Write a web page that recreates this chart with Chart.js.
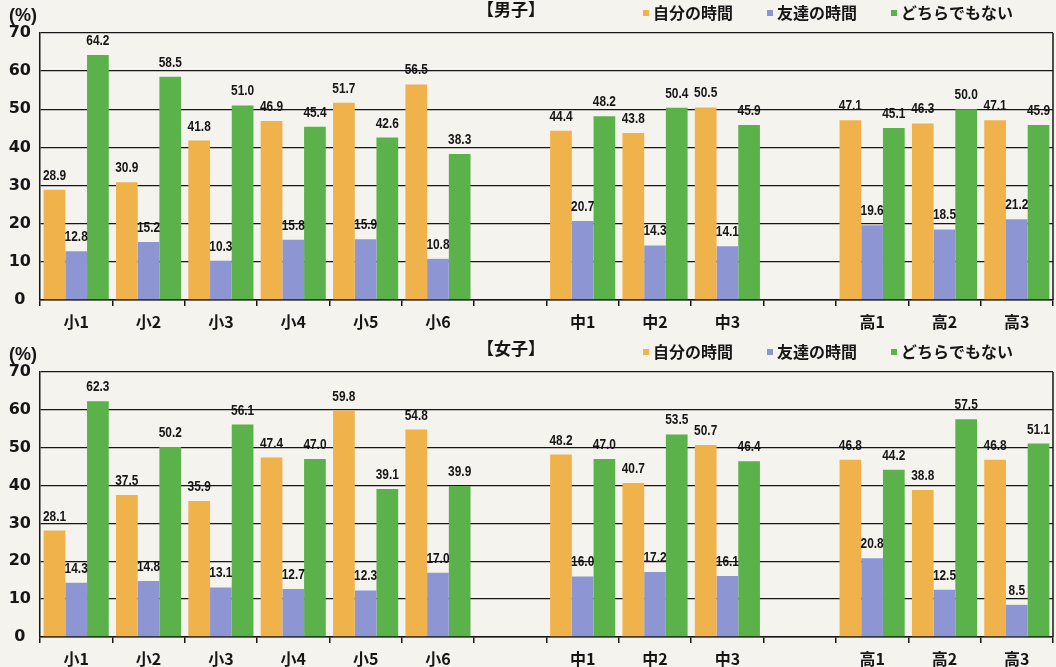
<!DOCTYPE html>
<html>
<head>
<meta charset="utf-8">
<script src="https://cdn.jsdelivr.net/npm/chart.js@4/dist/chart.umd.min.js"></script>
<style>
  body { margin: 0; background: #f4f3ee; width: 1056px; height: 667px; overflow: hidden; position: relative; }
  .panel { position: absolute; left: 0; width: 1056px; }
</style>
</head>
<body>
<div class="panel" style="top:0;height:330px"><canvas id="boysChart"></canvas></div>
<div class="panel" style="top:339px;height:328px"><canvas id="girlsChart"></canvas></div>

<script>
// Grades (a blank slot separates each school level)
const elementary = ['小1', '小2', '小3', '小4', '小5', '小6'];
const juniorHigh = ['中1', '中2', '中3'];
const seniorHigh = ['高1', '高2', '高3'];

const seriesNames = ['自分の時間', '友達の時間', 'どちらでもない'];
const seriesColors = ['#f0b24a', '#8d96d3', '#5cb24a'];

// 男子 (%)
const boysOwn     = [28.9, 30.9, 41.8, 46.9, 51.7, 56.5, 44.4, 43.8, 50.5, 47.1, 46.3, 47.1];
const boysFriends = [12.8, 15.2, 10.3, 15.8, 15.9, 10.8, 20.7, 14.3, 14.1, 19.6, 18.5, 21.2];
const boysNeither = [64.2, 58.5, 51.0, 45.4, 42.6, 38.3, 48.2, 50.4, 45.9, 45.1, 50.0, 45.9];

// 女子 (%)
const girlsOwn     = [28.1, 37.5, 35.9, 47.4, 59.8, 54.8, 48.2, 40.7, 50.7, 46.8, 38.8, 46.8];
const girlsFriends = [14.3, 14.8, 13.1, 12.7, 12.3, 17.0, 16.0, 17.2, 16.1, 20.8, 12.5, 8.5];
const girlsNeither = [62.3, 50.2, 56.1, 47.0, 39.1, 39.9, 47.0, 53.5, 46.4, 44.2, 57.5, 51.1];

const yMax = 70;
const yStep = 10;

const CJK = "'Noto Sans CJK JP', sans-serif";
const SANS = "'Liberation Sans', Arial, sans-serif";
const INK = '#161616';

// put a blank slot between the school levels
const labels = [...elementary, '', ...juniorHigh, '', ...seniorHigh];
const withGaps = (arr) => {
  const a = elementary.length, b = a + juniorHigh.length;
  return [...arr.slice(0, a), null, ...arr.slice(a, b), null, ...arr.slice(b)];
};

// value labels above each bar (squeezed to look like a narrow face)
const valueLabels = {
  id: 'valueLabels',
  afterDatasetsDraw(chart) {
    const ctx = chart.ctx;
    ctx.save();
    ctx.font = 'bold 14px ' + SANS;
    ctx.fillStyle = INK;
    ctx.textAlign = 'center';
    ctx.textBaseline = 'alphabetic';
    chart.data.datasets.forEach((ds, i) => {
      chart.getDatasetMeta(i).data.forEach((bar, j) => {
        const v = ds.data[j];
        if (v == null) return;
        ctx.save();
        ctx.translate(bar.x, bar.y - 10);
        ctx.scale(0.85, 1);
        ctx.fillText(v.toFixed(1), 0, 0);
        ctx.restore();
      });
    });
    ctx.restore();
  }
};

// unit, panel title, legend and the frame on the right
const panelDecor = {
  id: 'panelDecor',
  afterDraw(chart, args, opts) {
    const ctx = chart.ctx;
    const area = chart.chartArea;
    ctx.save();
    ctx.fillStyle = INK;
    ctx.textBaseline = 'middle';

    ctx.font = 'bold 18px ' + SANS;
    ctx.textAlign = 'left';
    ctx.fillText('(%)', 9, 16);

    ctx.font = 'bold 17px ' + CJK;
    ctx.textAlign = 'center';
    ctx.fillText(opts.title, 511, 10);

    // legend
    ctx.font = 'bold 16px ' + CJK;
    ctx.textAlign = 'left';
    let x = 643;
    chart.data.datasets.forEach((ds) => {
      ctx.fillStyle = ds.backgroundColor;
      ctx.fillRect(x, 10, 6, 6);
      ctx.fillStyle = INK;
      ctx.fillText(ds.label, x + 10, 13);
      x += 10 + ctx.measureText(ds.label).width + 34;
    });

    // right frame line
    ctx.strokeStyle = INK;
    ctx.lineWidth = 1.5;
    ctx.beginPath();
    ctx.moveTo(area.right, area.top);
    ctx.lineTo(area.right, area.bottom);
    ctx.stroke();
    ctx.restore();
  }
};

function buildChart(id, title, own, friends, neither) {
  const ctx = document.getElementById(id).getContext('2d');
  const values = [own, friends, neither];
  return new Chart(ctx, {
    type: 'bar',
    data: {
      labels: labels,
      datasets: seriesNames.map((name, i) => ({
        label: name,
        data: withGaps(values[i]),
        backgroundColor: seriesColors[i],
        borderWidth: 0,
        categoryPercentage: 0.9,
        barPercentage: 1.0
      }))
    },
    options: {
      responsive: true,
      maintainAspectRatio: false,
      animation: false,
      layout: { padding: { top: 33, right: 3, left: 0, bottom: 0 } },
      plugins: {
        legend: { display: false },
        tooltip: { enabled: false },
        panelDecor: { title: title }
      },
      scales: {
        x: {
          grid: { offset: true, drawOnChartArea: false, color: INK, lineWidth: 1.5, tickLength: 6 },
          border: { color: INK, width: 1.5 },
          ticks: {
            autoSkip: false, maxRotation: 0, padding: 6, color: INK,
            font: { family: CJK, size: 16, weight: 'bold' }
          },
          afterFit: (s) => { s.height = 30; }
        },
        y: {
          min: 0, max: yMax,
          grid: { color: INK, lineWidth: 1.3, drawTicks: false },
          border: { color: INK, width: 1.5 },
          ticks: {
            stepSize: yStep, padding: 9, crossAlign: 'center', color: INK,
            font: { family: "'DejaVu Sans', sans-serif", size: 16, weight: 'bold' }
          },
          afterFit: (s) => { s.width = 40; }
        }
      }
    },
    plugins: [valueLabels, panelDecor]
  });
}

buildChart('boysChart', '【男子】', boysOwn, boysFriends, boysNeither);
buildChart('girlsChart', '【女子】', girlsOwn, girlsFriends, girlsNeither);
</script>
</body>
</html>
